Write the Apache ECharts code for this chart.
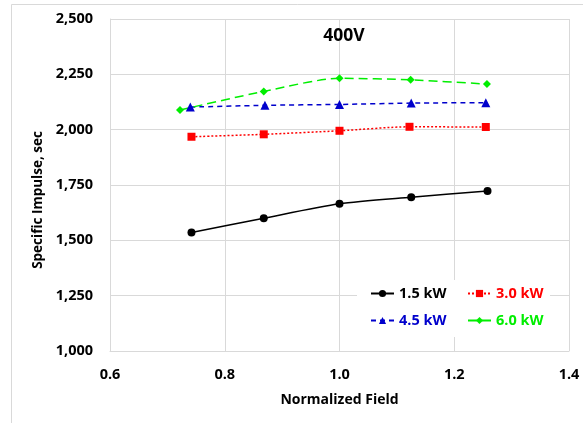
<!DOCTYPE html>
<html>
<head>
<meta charset="utf-8">
<script src="https://cdn.jsdelivr.net/npm/echarts@6/dist/echarts.min.js"></script>
<style>
  html, body { margin: 0; padding: 0; background: #fff; }
  #chart { width: 583px; height: 423px; }
</style>
</head>
<body>
<div id="chart"></div>
<script>
// Specific impulse vs. normalized magnetic field at 400 V discharge
const seriesNames = ['1.5 kW', '3.0 kW', '4.5 kW', '6.0 kW'];

const field15 = [0.742, 0.868, 1.000, 1.125, 1.258];
const isp15   = [1535, 1600, 1665, 1695, 1723];

const field30 = [0.742, 0.868, 1.000, 1.122, 1.255];
const isp30   = [1968, 1979, 1995, 2013, 2012];

const field45 = [0.740, 0.870, 1.000, 1.125, 1.255];
const isp45   = [2102, 2110, 2114, 2120, 2122];

const field60 = [0.722, 0.868, 1.000, 1.124, 1.257];
const isp60   = [2089, 2173, 2232, 2225, 2206];

const xTicks = [0.6, 0.8, 1.0, 1.2, 1.4];
const yTicks = [1000, 1250, 1500, 1750, 2000, 2250, 2500];

const colors = ['#000000', '#ff0000', '#0000cc', '#00ee00'];
const FONT = 'Open Sans';

function pairs(xs, ys) { return xs.map((x, i) => [x, ys[i]]); }

const chart = echarts.init(document.getElementById('chart'));

const legendItem = (i) => ({ name: seriesNames[i], textStyle: { color: colors[i] } });
const legendBase = {
  orient: 'vertical',
  top: 281,
  itemGap: 12,
  itemWidth: 23,
  itemHeight: 9,
  textStyle: { fontFamily: FONT, fontWeight: 'bold', fontSize: 14.5 },
  z: 10
};

chart.setOption({
  animation: false,
  backgroundColor: '#ffffff',
  title: {
    text: '400V',
    left: 339, top: 22,
    textAlign: 'center',
    textStyle: { fontFamily: FONT, fontWeight: 'bold', fontSize: 17.5, color: '#000' }
  },
  graphic: [
    { type: 'rect', z: -1, shape: { x: 11.5, y: 4.5, width: 620, height: 460 },
      style: { fill: 'none', stroke: '#d9d9d9', lineWidth: 1 } },
    { type: 'rect', z: 5, shape: { x: 357, y: 280, width: 193, height: 57 },
      style: { fill: '#ffffff' } },
    { type: 'text', z: 6, x: 38, y: 200, rotation: Math.PI / 2,
      style: { text: 'Specific Impulse, sec', fontFamily: FONT, fontWeight: 'bold', fontSize: 13.5,
        fill: '#000', align: 'center', verticalAlign: 'middle' } }
  ],
  legend: [
    Object.assign({}, legendBase, { left: 365, data: [legendItem(0), legendItem(2)] }),
    Object.assign({}, legendBase, { left: 462, data: [legendItem(1), legendItem(3)] })
  ],
  grid: { left: 110, right: 14, top: 19, bottom: 72 },
  xAxis: {
    type: 'value',
    min: xTicks[0], max: xTicks[xTicks.length - 1], interval: 0.2,
    name: 'Normalized Field',
    nameLocation: 'middle', nameGap: 42,
    nameTextStyle: { fontFamily: FONT, fontWeight: 'bold', fontSize: 14, color: '#000' },
    axisLine: { lineStyle: { color: '#d9d9d9' } },
    axisTick: { show: false },
    splitLine: { lineStyle: { color: '#d9d9d9' } },
    axisLabel: { fontFamily: FONT, fontWeight: 'bold', fontSize: 14.5, color: '#000', margin: 16,
      formatter: (v) => v.toFixed(1) }
  },
  yAxis: {
    type: 'value',
    min: yTicks[0], max: yTicks[yTicks.length - 1], interval: 250,
    axisLine: { show: true, lineStyle: { color: '#d9d9d9' } },
    axisTick: { show: false },
    splitLine: { lineStyle: { color: '#d9d9d9' } },
    axisLabel: { fontFamily: FONT, fontWeight: 'bold', fontSize: 14.5, color: '#000', margin: 17,
      formatter: (v) => v.toLocaleString('en-US') }
  },
  series: [
    { name: seriesNames[0], type: 'line', data: pairs(field15, isp15), smooth: 0.25,
      symbol: 'circle', symbolSize: 8, color: colors[0],
      lineStyle: { width: 1.5, type: 'solid' }, itemStyle: { color: colors[0] } },
    { name: seriesNames[1], type: 'line', data: pairs(field30, isp30), smooth: 0.25,
      symbol: 'rect', symbolSize: 8, color: colors[1],
      lineStyle: { width: 1.5, type: [2, 2] }, itemStyle: { color: colors[1] } },
    { name: seriesNames[2], type: 'line', data: pairs(field45, isp45), smooth: 0.25,
      symbol: 'triangle', symbolSize: 9, color: colors[2],
      lineStyle: { width: 1.5, type: [5, 4] }, itemStyle: { color: colors[2] } },
    { name: seriesNames[3], type: 'line', data: pairs(field60, isp60), smooth: 0.25,
      symbol: 'diamond', symbolSize: 8, color: colors[3],
      lineStyle: { width: 1.5, type: [9, 5] }, itemStyle: { color: colors[3] } }
  ]
});
</script>
</body>
</html>
